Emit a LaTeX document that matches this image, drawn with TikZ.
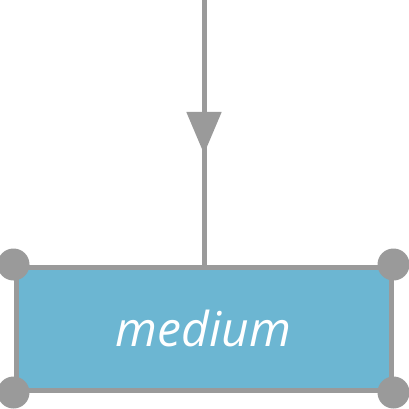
\documentclass[tikz,border=0pt]{standalone}
\usepackage{fontspec}
\newfontfamily\boxfont{Open Sans}
\usetikzlibrary{arrows.meta,decorations.markings}
\definecolor{edgegray}{RGB}{154,154,154}
\definecolor{boxblue}{RGB}{108,182,210}
\tikzset{
  mainbox/.style={draw=edgegray, line width=5pt, fill=boxblue, minimum width=375pt, minimum height=123pt, inner sep=0pt, text=white, font=\boxfont\itshape\fontsize{48}{52}\selectfont},
  corner/.style={circle, fill=edgegray, minimum size=32pt, inner sep=0pt},
  flow/.style={draw=edgegray, line width=5pt, postaction={decorate}, decoration={markings, mark=at position 156pt with {\arrow[edgegray]{Triangle[length=42pt,width=34pt]}}}}
}
\begin{document}
\begin{tikzpicture}[x=1pt,y=-1pt]
\useasboundingbox (0,0) rectangle (409,409);
\coordinate (top) at (204,-2);
\node[mainbox] (box) at (203.5,328.5) {\raisebox{-2pt}{medium}};
\draw[flow] (top) -- (box.north -| top);
\node[corner] (c1) at (box.north west) {};
\node[corner] (c2) at (box.north east) {};
\node[corner] (c3) at (box.south west) {};
\node[corner] (c4) at (box.south east) {};
\end{tikzpicture}
\end{document}
